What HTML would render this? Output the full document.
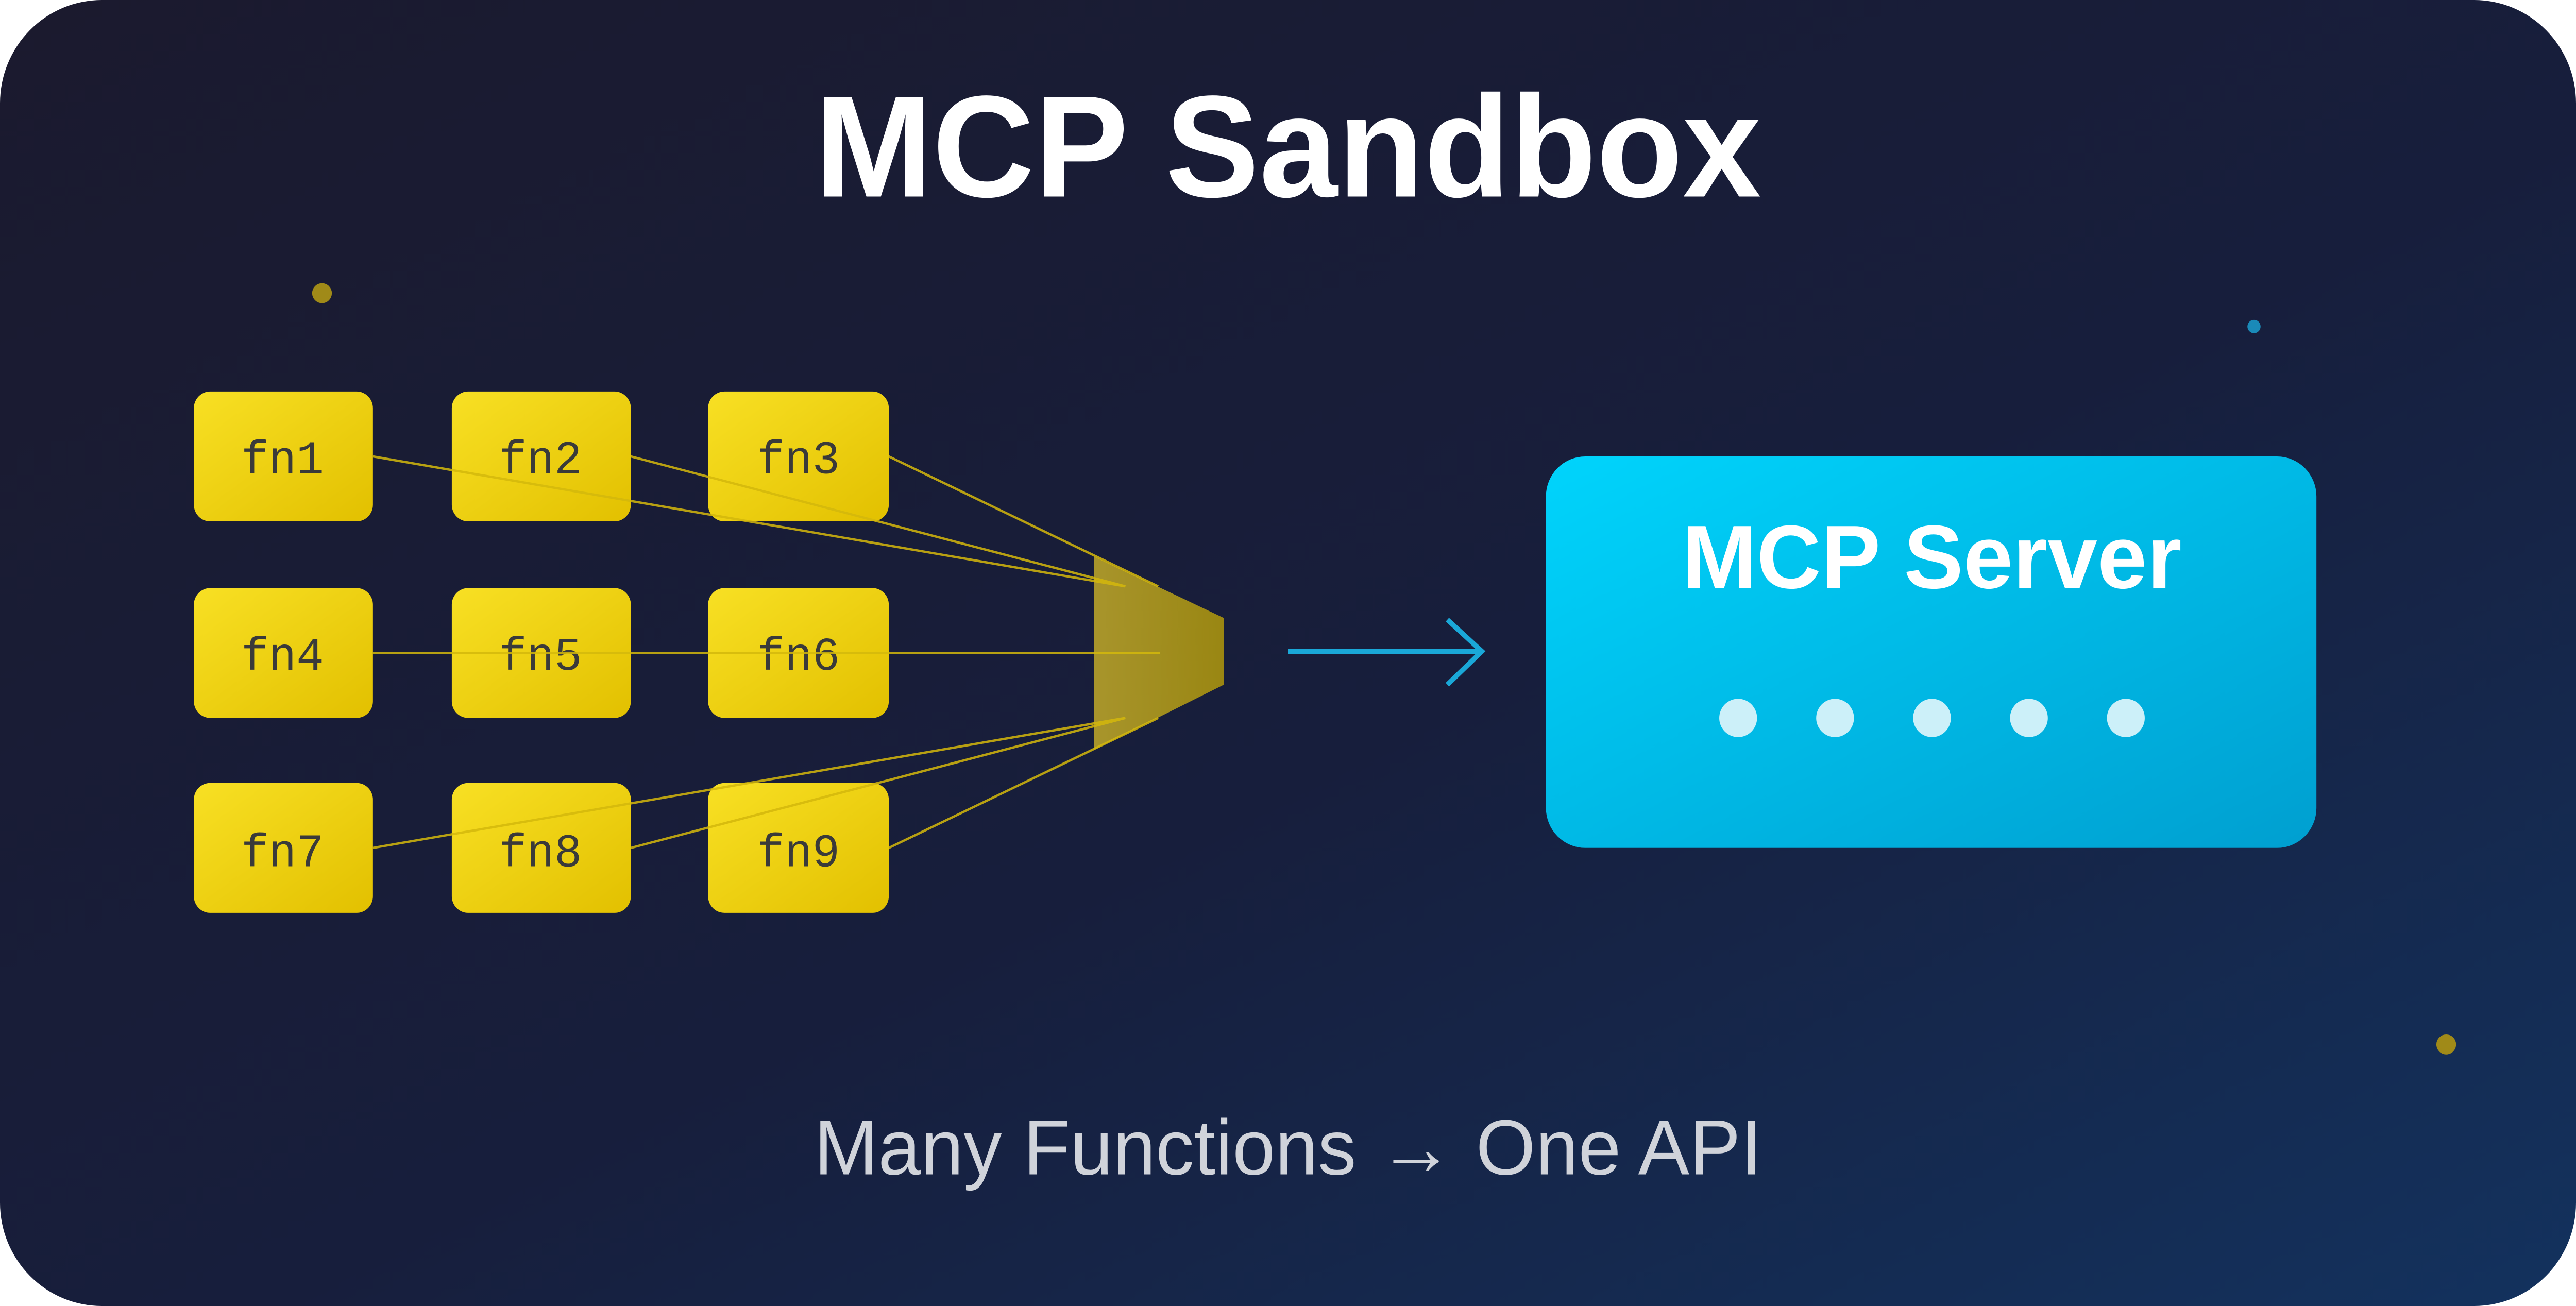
<!DOCTYPE html>
<html><head><meta charset="utf-8"><style>html,body{margin:0;padding:0;background:#fff;overflow:hidden;width:100%;height:100%}svg{display:block;position:absolute;left:0;top:0;width:100vw;height:100vh}</style></head>
<body>
<svg viewBox="0 0 1568 784" preserveAspectRatio="none" xmlns="http://www.w3.org/2000/svg">
<defs>
<linearGradient id="bg" x1="0" y1="0" x2="1" y2="1"><stop offset="0" stop-color="#1b1a2e"/><stop offset="0.55" stop-color="#171e3c"/><stop offset="1" stop-color="#13325e"/></linearGradient>
<linearGradient id="fn" x1="0" y1="0" x2="1" y2="1"><stop offset="0" stop-color="#f8e024"/><stop offset="1" stop-color="#e2c000"/></linearGradient>
<linearGradient id="srv" x1="0" y1="0" x2="1" y2="1"><stop offset="0" stop-color="#00d4fc"/><stop offset="1" stop-color="#009fd0"/></linearGradient>
<linearGradient id="fun" x1="0" y1="0" x2="1" y2="0"><stop offset="0" stop-color="#b8a22a"/><stop offset="1" stop-color="#a8920e"/></linearGradient>
</defs>
<rect x="0" y="0" width="1568" height="784" rx="62" fill="url(#bg)"/>
<text x="784" y="118" text-anchor="middle" font-family="Liberation Sans, sans-serif" font-weight="bold" font-size="87" fill="#fff" textLength="576" lengthAdjust="spacingAndGlyphs">MCP Sandbox</text>
<circle cx="196" cy="176" r="6" fill="#a08a18"/>
<circle cx="1372" cy="196" r="4" fill="#1a8ab8"/>
<circle cx="1489" cy="627" r="6" fill="#a08a18"/>
<g fill="url(#fn)">
<rect x="118" y="235" width="109" height="78" rx="10"/><rect x="275" y="235" width="109" height="78" rx="10"/><rect x="431" y="235" width="110" height="78" rx="10"/>
<rect x="118" y="353" width="109" height="78" rx="10"/><rect x="275" y="353" width="109" height="78" rx="10"/><rect x="431" y="353" width="110" height="78" rx="10"/>
<rect x="118" y="470" width="109" height="78" rx="10"/><rect x="275" y="470" width="109" height="78" rx="10"/><rect x="431" y="470" width="110" height="78" rx="10"/>
</g>
<g font-family="Liberation Mono, monospace" font-size="28" fill="#3a3a3a" text-anchor="middle">
<text x="172" y="284">fn1</text><text x="329" y="284">fn2</text><text x="486" y="284">fn3</text>
<text x="172" y="402">fn4</text><text x="329" y="402">fn5</text><text x="486" y="402">fn6</text>
<text x="172" y="520">fn7</text><text x="329" y="520">fn8</text><text x="486" y="520">fn9</text>
</g>
<polygon points="666,334 745,371 745,411 666,450" fill="url(#fun)" opacity="0.9"/>
<g stroke="#d4b80c" stroke-width="1.4" opacity="0.85" fill="none">
<line x1="227" y1="274" x2="685" y2="352"/>
<line x1="384" y1="274" x2="685" y2="352"/>
<line x1="541" y1="274" x2="705" y2="352"/>
<line x1="227" y1="392" x2="706" y2="392"/>
<line x1="227" y1="509" x2="685" y2="431"/>
<line x1="384" y1="509" x2="685" y2="431"/>
<line x1="541" y1="509" x2="705" y2="431"/>
</g>
<g stroke="#1aa8d8" stroke-width="3" fill="none">
<line x1="784" y1="391" x2="902" y2="391"/>
<polyline points="881,372 902,391 881,411"/>
</g>
<rect x="941" y="274" width="469" height="235" rx="24" fill="url(#srv)"/>
<text x="1176" y="353" text-anchor="middle" font-family="Liberation Sans, sans-serif" font-weight="bold" font-size="54" fill="#fff" textLength="304" lengthAdjust="spacingAndGlyphs">MCP Server</text>
<g fill="#ccf0f9">
<circle cx="1058" cy="431" r="11.5"/><circle cx="1117" cy="431" r="11.5"/><circle cx="1176" cy="431" r="11.5"/><circle cx="1235" cy="431" r="11.5"/><circle cx="1294" cy="431" r="11.5"/>
</g>
<text x="784" y="705" text-anchor="middle" font-family="Liberation Sans, DejaVu Sans, sans-serif" font-size="47" fill="#d0d3da" textLength="577" lengthAdjust="spacingAndGlyphs">Many Functions → One API</text>
</svg>
</body></html>
